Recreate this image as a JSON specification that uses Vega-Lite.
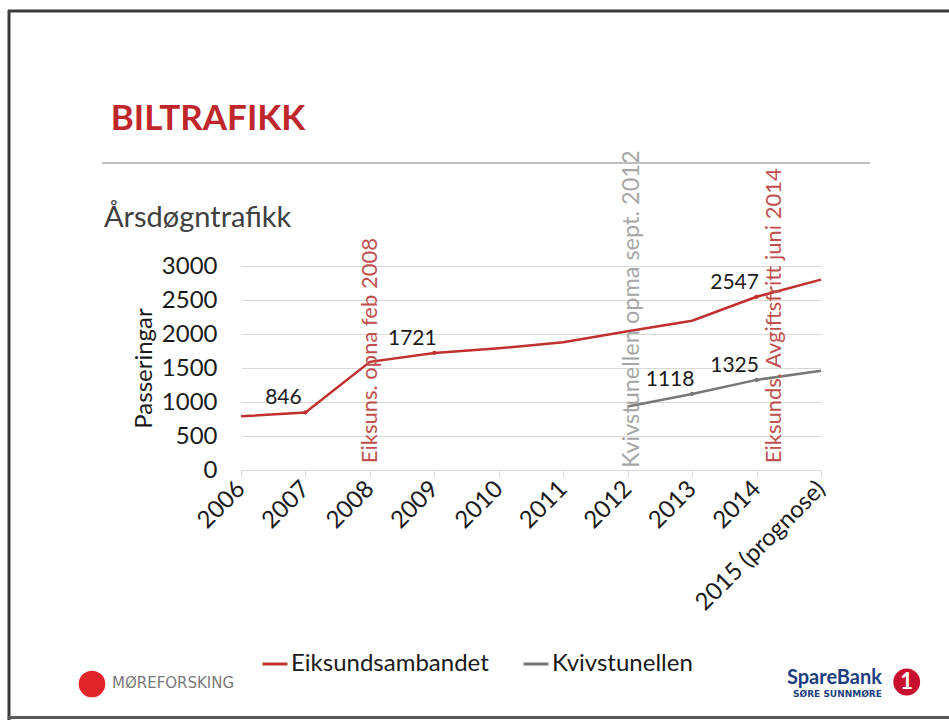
{
  "$schema": "https://vega.github.io/schema/vega-lite/v6.json",
  "width": 580,
  "height": 204,
  "autosize": {"type": "none"},
  "padding": {"left": 241, "top": 266, "right": 128, "bottom": 250},
  "background": "white",
  "config": {
    "view": {"stroke": null},
    "font": "Lato",
    "axisY": {"tickCount": 7},
    "axisX": {"tickCount": 10}
  },
  "datasets": {
    "traffic": [
      {"year": 2006, "series": "Eiksundsambandet", "value": 790, "labelled": false},
      {"year": 2007, "series": "Eiksundsambandet", "value": 846, "labelled": true},
      {"year": 2008, "series": "Eiksundsambandet", "value": 1590, "labelled": false},
      {"year": 2009, "series": "Eiksundsambandet", "value": 1721, "labelled": true},
      {"year": 2010, "series": "Eiksundsambandet", "value": 1790, "labelled": false},
      {"year": 2011, "series": "Eiksundsambandet", "value": 1880, "labelled": false},
      {"year": 2012, "series": "Eiksundsambandet", "value": 2040, "labelled": false},
      {"year": 2013, "series": "Eiksundsambandet", "value": 2195, "labelled": false},
      {"year": 2014, "series": "Eiksundsambandet", "value": 2547, "labelled": true},
      {"year": 2015, "series": "Eiksundsambandet", "value": 2800, "labelled": false},
      {"year": 2012, "series": "Kvivstunellen", "value": 935, "labelled": false},
      {"year": 2013, "series": "Kvivstunellen", "value": 1118, "labelled": true},
      {"year": 2014, "series": "Kvivstunellen", "value": 1325, "labelled": true},
      {"year": 2015, "series": "Kvivstunellen", "value": 1460, "labelled": false}
    ],
    "notes": [
      {"year": 2008.0, "road": "Eiksundsambandet", "text": "Eiksuns. opna feb 2008"},
      {"year": 2012.07, "road": "Kvivstunellen", "text": "Kvivstunellen opma sept. 2012"},
      {"year": 2014.27, "road": "Eiksundsambandet", "text": "Eiksunds. Avgiftsfritt juni 2014"}
    ]
  },
  "layer": [
    {
      "data": {"name": "traffic"},
      "mark": {"type": "line", "strokeWidth": 2.5},
      "encoding": {
        "x": {
          "field": "year", "type": "quantitative",
          "scale": {"domain": [2006, 2015], "nice": false, "zero": false},
          "axis": {
            "title": null,
            "values": [2006, 2007, 2008, 2009, 2010, 2011, 2012, 2013, 2014, 2015],
            "tickCount": 10,
            "format": "d",
            "labelExpr": "datum.value == 2015 ? '2015 (prognose)' : datum.label",
            "labelAngle": -45, "labelAlign": "right", "labelBaseline": "middle",
            "labelFontSize": 24, "labelColor": "#1a1a1a", "labelPadding": 8,
            "labelFont": "Lato", "labelOverlap": false, "labelBound": false, "labelFlush": false,
            "labelLimit": 400,
            "grid": false, "domainColor": "#d9d9d9", "domainWidth": 1,
            "tickColor": "#d9d9d9", "tickSize": 7, "ticks": true
          }
        },
        "y": {
          "field": "value", "type": "quantitative",
          "scale": {"domain": [0, 3000], "nice": false},
          "axis": {
            "title": "Passeringar",
            "values": [0, 500, 1000, 1500, 2000, 2500, 3000],
            "tickCount": 7,
            "format": "d",
            "labelOverlap": false,
            "titleFontSize": 24, "titleFontWeight": "normal", "titleColor": "#1a1a1a",
            "titleFont": "Lato", "titlePadding": 5,
            "labelFontSize": 24, "labelColor": "#1a1a1a", "labelFont": "Lato",
            "labelPadding": 24, "ticks": false, "domain": false,
            "grid": true, "gridColor": "#d9d9d9", "gridWidth": 1
          }
        },
        "color": {
          "field": "series", "type": "nominal",
          "scale": {"domain": ["Eiksundsambandet", "Kvivstunellen"], "range": ["#C0302E", "#777777"]},
          "legend": {
            "orient": "none", "legendX": 20, "legendY": 384,
            "direction": "horizontal", "title": null,
            "symbolType": "stroke", "symbolSize": 625, "symbolStrokeWidth": 3,
            "labelFontSize": 24, "labelColor": "#1a1a1a", "labelFont": "Lato",
            "labelLimit": 400,
            "columnPadding": 28, "labelOffset": 2, "padding": 0
          }
        }
      }
    },
    {
      "data": {"name": "traffic"},
      "transform": [{"filter": "datum.labelled"}],
      "mark": {"type": "point", "filled": true, "size": 18, "opacity": 1},
      "encoding": {
        "x": {"field": "year", "type": "quantitative"},
        "y": {"field": "value", "type": "quantitative"},
        "color": {"field": "series", "type": "nominal"}
      }
    },
    {
      "data": {"name": "traffic"},
      "transform": [{"filter": "datum.labelled"}],
      "mark": {"type": "text", "dx": -22, "dy": -14, "fontSize": 21, "color": "#1a1a1a", "font": "Lato"},
      "encoding": {
        "x": {"field": "year", "type": "quantitative"},
        "y": {"field": "value", "type": "quantitative"},
        "text": {"field": "value", "type": "quantitative", "format": "d"}
      }
    },
    {
      "data": {"name": "notes"},
      "transform": [{"filter": "datum.road == 'Eiksundsambandet'"}],
      "mark": {"type": "text", "angle": 270, "align": "left", "baseline": "middle", "fontSize": 22, "color": "#C0504D", "font": "Lato"},
      "encoding": {
        "x": {"field": "year", "type": "quantitative"},
        "y": {"datum": 100},
        "text": {"field": "text"}
      }
    },
    {
      "data": {"name": "notes"},
      "transform": [{"filter": "datum.road == 'Kvivstunellen'"}],
      "mark": {"type": "text", "angle": 270, "align": "left", "baseline": "middle", "fontSize": 23.5, "color": "#A6A6A6", "font": "Lato"},
      "encoding": {
        "x": {"field": "year", "type": "quantitative"},
        "y": {"datum": 30},
        "text": {"field": "text"}
      }
    },
    {
      "data": {"values": [{}]},
      "mark": {"type": "rule", "color": "#3a3a3a", "strokeWidth": 3},
      "encoding": {"x": {"datum": 2002.38}, "x2": {"datum": 2017}, "y": {"datum": 6750}}
    },
    {
      "data": {"values": [{}]},
      "mark": {"type": "rule", "color": "#3a3a3a", "strokeWidth": 3},
      "encoding": {"x": {"datum": 2002.4}, "y": {"datum": 6750}, "y2": {"datum": -3700}}
    },
    {
      "data": {"values": [{}]},
      "mark": {"type": "rule", "color": "#5a5a5a", "strokeWidth": 3},
      "encoding": {"x": {"datum": 2002.38}, "x2": {"datum": 2017}, "y": {"datum": -3640}}
    },
    {
      "data": {"values": [{}]},
      "mark": {"type": "rule", "color": "#BFBFBF", "strokeWidth": 2},
      "encoding": {"x": {"datum": 2003.84}, "x2": {"datum": 2015.76}, "y": {"datum": 4515}}
    },
    {
      "data": {"values": [{}]},
      "mark": {"type": "text", "text": "BILTRAFIKK", "align": "left", "baseline": "alphabetic", "fontSize": 35, "fontWeight": "bold", "color": "#C0272D", "font": "Lato"},
      "encoding": {"x": {"datum": 2003.98}, "y": {"datum": 5000}}
    },
    {
      "data": {"values": [{}]},
      "mark": {"type": "text", "text": "Årsdøgntrafikk", "align": "left", "baseline": "alphabetic", "fontSize": 29, "color": "#404040", "font": "Lato"},
      "encoding": {"x": {"datum": 2003.874}, "y": {"datum": 3574}}
    },
    {
      "data": {"values": [{}]},
      "mark": {"type": "point", "shape": "circle", "filled": true, "size": 707, "color": "#E0262B", "opacity": 1},
      "encoding": {"x": {"datum": 2003.688}, "y": {"datum": -3147}}
    },
    {
      "data": {"values": [{}]},
      "mark": {"type": "text", "text": "MØREFORSKING", "align": "left", "baseline": "middle", "fontSize": 15, "color": "#7a7a7a", "font": "DejaVu Sans"},
      "encoding": {"x": {"datum": 2003.998}, "y": {"datum": -3132}}
    },
    {
      "data": {"values": [{}]},
      "mark": {"type": "text", "text": "SpareBank", "align": "left", "baseline": "alphabetic", "fontSize": 20, "fontWeight": "bold", "color": "#1d3f7f", "font": "Lato"},
      "encoding": {"x": {"datum": 2014.472}, "y": {"datum": -3147}}
    },
    {
      "data": {"values": [{}]},
      "mark": {"type": "text", "text": "SØRE SUNNMØRE", "align": "left", "baseline": "middle", "fontSize": 9, "fontWeight": "bold", "color": "#1d3f7f", "font": "DejaVu Sans"},
      "encoding": {"x": {"datum": 2014.566}, "y": {"datum": -3294}}
    },
    {
      "data": {"values": [{}]},
      "mark": {"type": "point", "shape": "circle", "filled": true, "size": 720, "color": "#C8102E", "opacity": 1},
      "encoding": {"x": {"datum": 2016.33}, "y": {"datum": -3118}}
    },
    {
      "data": {"values": [{}]},
      "mark": {"type": "text", "text": "1", "align": "center", "baseline": "middle", "fontSize": 22, "fontWeight": "bold", "color": "white", "font": "Lato"},
      "encoding": {"x": {"datum": 2016.33}, "y": {"datum": -3118}}
    }
  ]
}
